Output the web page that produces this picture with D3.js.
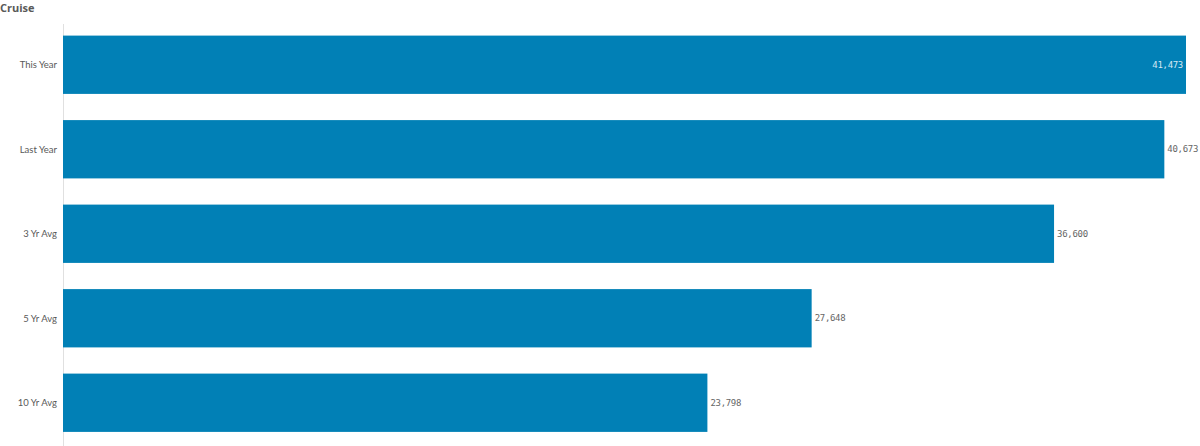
<!DOCTYPE html>
<html><head><meta charset="utf-8">
<script src="https://cdn.jsdelivr.net/npm/d3@7"></script>
<style>body{margin:0;background:#fff;font-family:Lato,"Open Sans",sans-serif;}</style>
</head><body><svg id="c" width="1200" height="446"></svg>
<script>
const categories = ["This Year","Last Year","3 Yr Avg","5 Yr Avg","10 Yr Avg"];
const values = [41473,40673,36600,27648,23798];
const title = "Cruise";

const svg = d3.select("#c");
const x = d3.scaleLinear().domain([0, d3.max(values)]).range([63, 1186]);
const y = d3.scaleBand().domain(categories).range([22.5, 445]).paddingInner(0.31).paddingOuter(0.155);

svg.append("text").attr("x",0).attr("y",12).text(title)
  .attr("font-size",11).attr("font-weight","bold").attr("fill","#595959")
  .attr("font-family","'Open Sans',sans-serif");

svg.append("line").attr("x1",63.5).attr("x2",63.5).attr("y1",24).attr("y2",446)
  .attr("stroke","#e0e0e0").attr("stroke-width",1);

const data = categories.map((c,i)=>({c, v: values[i]}));
svg.selectAll("rect.bar").data(data).join("rect").attr("class","bar")
  .attr("x", x(0)).attr("y", d=>y(d.c)).attr("width", d=>x(d.v)-x(0)).attr("height", y.bandwidth())
  .attr("fill","#0180b6");

svg.selectAll("text.cat").data(data).join("text").attr("class","cat")
  .attr("x",57).attr("y",d=>y(d.c)+y.bandwidth()/2).attr("dy","0.35em")
  .attr("text-anchor","end").attr("font-size",9.5).attr("fill","#595959").text(d=>d.c);

const fmt = d3.format(",");
svg.selectAll("text.val").data(data).join("text").attr("class","val")
  .attr("y",d=>y(d.c)+y.bandwidth()/2).attr("dy","0.35em")
  .attr("font-size",9).attr("font-family","'DejaVu Sans Mono',monospace").attr("letter-spacing","-0.3")
  .text(d=>fmt(d.v))
  .each(function(d){
    const w = this.getComputedTextLength();
    const inside = x(d.v) + 3 + w > 1200;
    d3.select(this)
      .attr("x", inside ? x(d.v)-3 : x(d.v)+3)
      .attr("text-anchor", inside ? "end" : "start")
      .attr("fill", inside ? "#d6e8f2" : "#666");
  });
</script></body></html>
